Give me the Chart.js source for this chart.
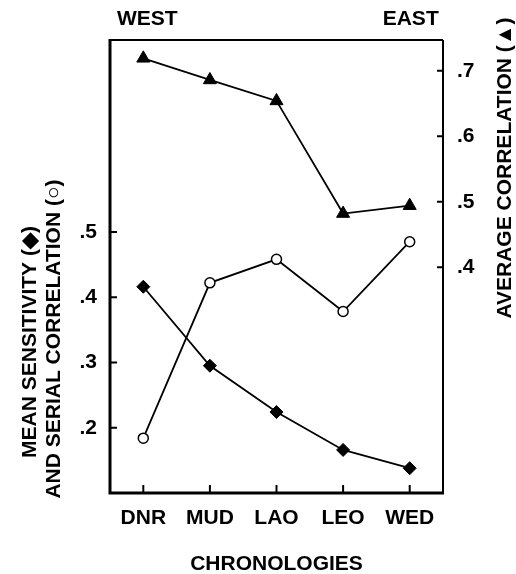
<!DOCTYPE html>
<html>
<head>
<meta charset="utf-8">
<script src="https://cdn.jsdelivr.net/npm/chart.js@4.4.1/dist/chart.umd.min.js"></script>
<style>
html,body{margin:0;padding:0;background:#fff;}
#wrap{width:516px;height:574px;}
</style>
</head>
<body>
<div id="wrap"><canvas id="c" width="516" height="574"></canvas></div>
<script>
// ---- data ----
const categories = ['DNR', 'MUD', 'LAO', 'LEO', 'WED'];
const meanSensitivity = [0.416, 0.295, 0.224, 0.166, 0.138];
const serialCorrelation = [0.184, 0.422, 0.458, 0.378, 0.485];
const averageCorrelation = [0.719, 0.686, 0.654, 0.482, 0.494];
const leftTicks = [0.2, 0.3, 0.4, 0.5];
const rightTicks = [0.4, 0.5, 0.6, 0.7];
const leftTitle = ['MEAN SENSITIVITY (\u25C6)', 'AND SERIAL CORRELATION (\u25CB)'];
const rightTitle = 'AVERAGE CORRELATION (\u25B2)';
const xTitle = 'CHRONOLOGIES';
const topLabels = ['WEST', 'EAST'];

const FONT = '"Liberation Sans", Arial, Helvetica, sans-serif';
const FS = 21;
const fmt = v => String(Math.round(v * 10) / 10).replace(/^0/, '');

const decor = {
  id: 'decor',
  afterDraw(chart) {
    const ctx = chart.ctx;
    const a = chart.chartArea;
    const x = chart.scales.x, yL = chart.scales.yL, yR = chart.scales.yR;
    ctx.save();
    ctx.strokeStyle = '#000';
    ctx.lineCap = 'butt';
    // frame
    ctx.lineWidth = 2;
    ctx.beginPath();
    ctx.moveTo(a.left, a.top); ctx.lineTo(a.right, a.top);
    ctx.moveTo(a.right, a.top); ctx.lineTo(a.right, a.bottom);
    ctx.stroke();
    ctx.lineWidth = 3;
    ctx.beginPath();
    ctx.moveTo(a.left, a.top - 1); ctx.lineTo(a.left, a.bottom);
    ctx.lineTo(a.right + 1, a.bottom);
    ctx.stroke();
    // inner ticks
    ctx.lineWidth = 2;
    ctx.beginPath();
    leftTicks.forEach(v => { const p = yL.getPixelForValue(v); ctx.moveTo(a.left, p); ctx.lineTo(a.left + 7, p); });
    rightTicks.forEach(v => { const p = yR.getPixelForValue(v); ctx.moveTo(a.right, p); ctx.lineTo(a.right - 6, p); });
    categories.forEach((c, i) => { const p = x.getPixelForValue(i); ctx.moveTo(p, a.bottom); ctx.lineTo(p, a.bottom - 8); });
    ctx.stroke();
    // texts
    ctx.fillStyle = '#000';
    ctx.font = 'bold ' + FS + 'px ' + FONT;
    ctx.textBaseline = 'middle';
    ctx.textAlign = 'center';
    ctx.fillText(topLabels[0], x.getPixelForValue(0) + 4, 19);
    ctx.fillText(topLabels[1], x.getPixelForValue(categories.length - 1) + 1, 19);
    ctx.fillText(xTitle, (a.left + a.right) / 2, 564);
    const vt = (t, cx, cy) => {
      ctx.save(); ctx.translate(cx, cy); ctx.rotate(-Math.PI / 2);
      ctx.textAlign = 'center'; ctx.textBaseline = 'middle';
      ctx.fillText(t, 0, 0); ctx.restore();
    };
    vt(leftTitle[0], 30, 342);
    vt(leftTitle[1], 54, 339);
    vt(rightTitle, 505, 168);
    ctx.restore();
  }
};

new Chart(document.getElementById('c'), {
  type: 'line',
  data: {
    labels: categories,
    datasets: [
      {
        label: 'Average correlation', data: averageCorrelation, yAxisID: 'yR',
        borderColor: '#000', borderWidth: 1.8, backgroundColor: '#000',
        pointStyle: 'triangle', pointRadius: 7.5, pointBackgroundColor: '#000', pointBorderColor: '#000', pointBorderWidth: 1
      },
      {
        label: 'Serial correlation', data: serialCorrelation, yAxisID: 'yL',
        borderColor: '#000', borderWidth: 1.8,
        pointStyle: 'circle', pointRadius: 5, pointBackgroundColor: '#fff', pointBorderColor: '#000', pointBorderWidth: 1.5
      },
      {
        label: 'Mean sensitivity', data: meanSensitivity, yAxisID: 'yL',
        borderColor: '#000', borderWidth: 1.8, backgroundColor: '#000',
        pointStyle: 'rectRot', pointRadius: 6.5, pointBackgroundColor: '#000', pointBorderColor: '#000', pointBorderWidth: 1
      }
    ]
  },
  options: {
    responsive: false,
    animation: false,
    layout: { padding: { top: 40, left: 0, right: 0, bottom: 0 } },
    plugins: { legend: { display: false }, tooltip: { enabled: false }, title: { display: false } },
    elements: { line: { tension: 0 } },
    scales: {
      x: {
        type: 'category', offset: true,
        grid: { display: false, drawTicks: false },
        border: { display: false },
        ticks: { color: '#000', padding: 13, font: { family: FONT, size: FS, weight: 'bold' } },
        afterFit(s) { s.height = 81; }
      },
      yL: {
        type: 'linear', position: 'left', min: 0.1, max: 0.794,
        grid: { display: false, drawTicks: false },
        border: { display: false },
        afterBuildTicks(s) { s.ticks = leftTicks.map(v => ({ value: v })); },
        ticks: { color: '#000', padding: 13, font: { family: FONT, size: FS, weight: 'bold' }, callback: v => fmt(v) },
        afterFit(s) { s.width = 110; }
      },
      yR: {
        type: 'linear', position: 'right', min: 0.0553, max: 0.747,
        grid: { display: false, drawTicks: false },
        border: { display: false },
        afterBuildTicks(s) { s.ticks = rightTicks.map(v => ({ value: v })); },
        ticks: { color: '#000', padding: 14, font: { family: FONT, size: FS, weight: 'bold' }, callback: v => fmt(v) },
        afterFit(s) { s.width = 73; }
      }
    }
  },
  plugins: [decor]
});
</script>
</body>
</html>
